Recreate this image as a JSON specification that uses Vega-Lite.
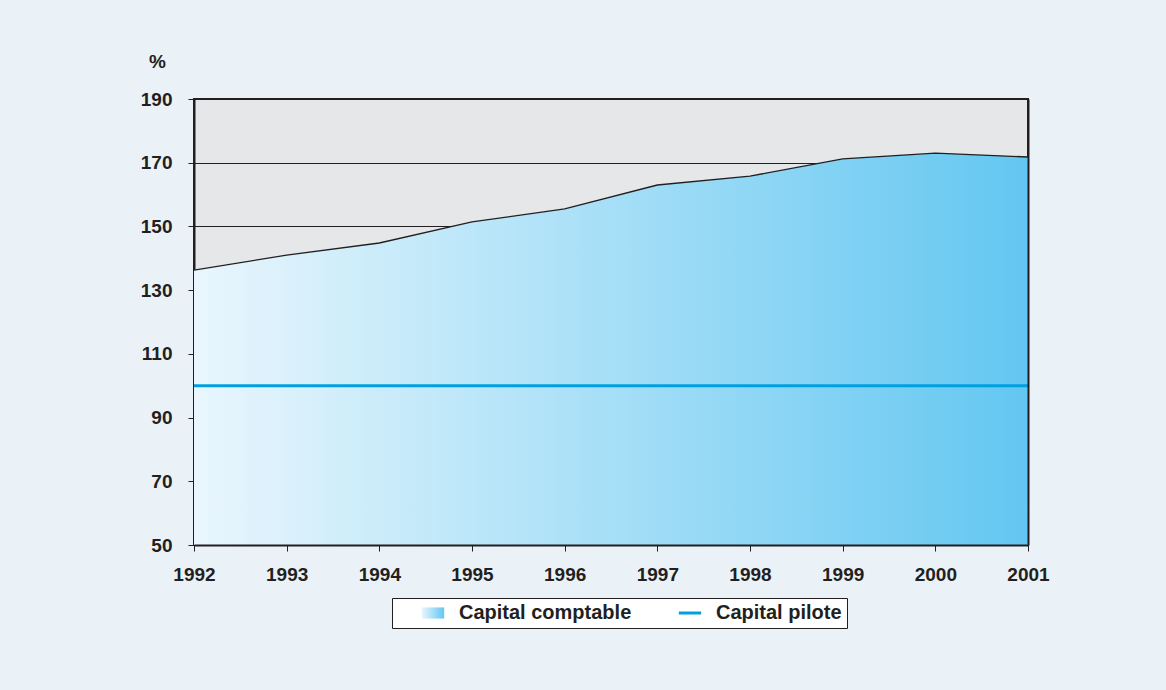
{
  "$schema": "https://vega.github.io/schema/vega-lite/v6.json",
  "width": 834,
  "height": 446,
  "autosize": {"type": "none"},
  "padding": {"left": 194, "top": 99, "right": 138, "bottom": 145},
  "background": "#ebf2f7",
  "config": {
    "view": {"fill": "#e6e7e9", "stroke": "#231f20", "strokeWidth": 2},
    "axis": {
      "labelFont": "Liberation Sans",
      "labelFontWeight": "bold",
      "labelFontSize": 19,
      "labelColor": "#231f20",
      "titleFont": "Liberation Sans",
      "titleFontWeight": "bold",
      "titleFontSize": 19,
      "titleColor": "#231f20",
      "domainColor": "#231f20",
      "domainWidth": 2,
      "tickColor": "#231f20",
      "tickWidth": 1,
      "tickSize": 6,
      "gridColor": "#231f20",
      "gridOpacity": 1,
      "gridWidth": 1
    }
  },
  "datasets": {
    "comptable": [
      {"year": 1992, "value": 136.3, "series": "Capital comptable"},
      {"year": 1993, "value": 141.0, "series": "Capital comptable"},
      {"year": 1994, "value": 144.8, "series": "Capital comptable"},
      {"year": 1995, "value": 151.4, "series": "Capital comptable"},
      {"year": 1996, "value": 155.5, "series": "Capital comptable"},
      {"year": 1997, "value": 163.0, "series": "Capital comptable"},
      {"year": 1998, "value": 165.8, "series": "Capital comptable"},
      {"year": 1999, "value": 171.2, "series": "Capital comptable"},
      {"year": 2000, "value": 173.0, "series": "Capital comptable"},
      {"year": 2001, "value": 171.8, "series": "Capital comptable"}
    ],
    "pilote": [
      {"year": 1992, "value": 100, "series": "Capital pilote"},
      {"year": 1993, "value": 100, "series": "Capital pilote"},
      {"year": 1994, "value": 100, "series": "Capital pilote"},
      {"year": 1995, "value": 100, "series": "Capital pilote"},
      {"year": 1996, "value": 100, "series": "Capital pilote"},
      {"year": 1997, "value": 100, "series": "Capital pilote"},
      {"year": 1998, "value": 100, "series": "Capital pilote"},
      {"year": 1999, "value": 100, "series": "Capital pilote"},
      {"year": 2000, "value": 100, "series": "Capital pilote"},
      {"year": 2001, "value": 100, "series": "Capital pilote"}
    ]
  },
  "layer": [
    {
      "data": {"name": "comptable"},
      "mark": {
        "type": "area",
        "clip": true,
        "opacity": 1,
        "color": {
          "gradient": "linear",
          "x1": 0, "x2": 1, "y1": 0, "y2": 0,
          "stops": [
            {"offset": 0, "color": "#e9f6fd"},
            {"offset": 1, "color": "#63c7f1"}
          ]
        },
        "line": {"color": "#231f20", "strokeWidth": 1.3}
      },
      "encoding": {
        "x": {
          "field": "year",
          "type": "quantitative",
          "scale": {"domain": [1992, 2001], "nice": false, "zero": false},
          "axis": {
            "title": null,
            "orient": "bottom",
            "values": [1992, 1993, 1994, 1995, 1996, 1997, 1998, 1999, 2000, 2001],
            "format": "d",
            "grid": false,
            "labelFlush": false,
            "labelPadding": 14,
            "zindex": 1
          }
        },
        "y": {
          "field": "value",
          "type": "quantitative",
          "scale": {"domain": [50, 190], "nice": false, "zero": false},
          "axis": {
            "title": "%",
            "titleAngle": 0,
            "titleX": -37,
            "titleY": -32,
            "titleAlign": "center",
            "titleBaseline": "alphabetic",
            "values": [50, 70, 90, 110, 130, 150, 170, 190],
            "grid": true,
            "labelFlush": false,
            "labelPadding": 16,
            "zindex": 0
          }
        },
        "y2": {"datum": 50}
      }
    },
    {
      "data": {"name": "pilote"},
      "mark": {"type": "line", "strokeWidth": 3},
      "encoding": {
        "x": {"field": "year", "type": "quantitative"},
        "y": {
          "field": "value",
          "type": "quantitative",
          "axis": {
            "orient": "right",
            "title": null,
            "labels": false,
            "ticks": false,
            "grid": false,
            "domain": true,
            "zindex": 1
          }
        },
        "color": {
          "field": "series",
          "type": "nominal",
          "scale": {
            "domain": ["Capital comptable", "Capital pilote"],
            "range": ["#9ad6f3", "#00a0e0"]
          },
          "legend": {
            "orient": "none",
            "legendX": 198,
            "legendY": 499,
            "direction": "horizontal",
            "title": null,
            "fillColor": "#ffffff",
            "strokeColor": "#231f20",
            "padding": 5,
            "labelFont": "Liberation Sans",
            "labelFontWeight": "bold",
            "labelFontSize": 20,
            "labelColor": "#231f20",
            "labelLimit": 300,
            "symbolType": "stroke",
            "symbolSize": 500,
            "symbolStrokeWidth": 3,
            "labelOffset": 16,
            "columnPadding": 22,
            "symbolOffset": 26,
            "encode": {
              "symbols": {
                "update": {
                  "shape": {"signal": "datum.value === 'Capital comptable' ? 'M-1,-0.5H1V0.5H-1Z' : 'stroke'"},
                  "fill": {"signal": "datum.value === 'Capital comptable' ? {gradient: 'linear', x1: 0, x2: 1, y1: 0, y2: 0, stops: [{offset: 0, color: '#e9f6fd'}, {offset: 1, color: '#63c7f1'}]} : 'transparent'"},
                  "strokeWidth": {"signal": "datum.value === 'Capital comptable' ? 0 : 3"}
                }
              }
            }
          }
        }
      }
    }
  ],
  "resolve": {"axis": {"y": "independent"}}
}
